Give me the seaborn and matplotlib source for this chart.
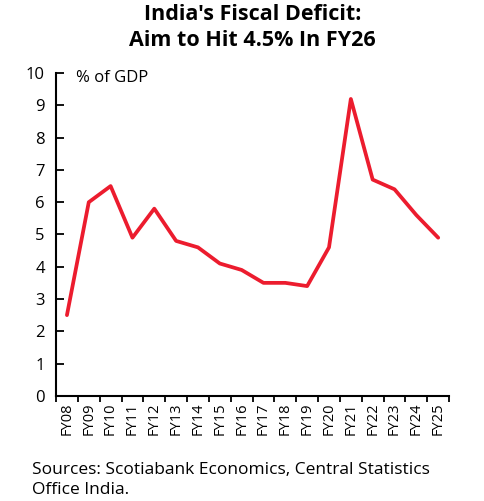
import numpy as np
import pandas as pd
import seaborn as sns
import matplotlib.pyplot as plt
from matplotlib.ticker import FixedLocator

# fiscal deficit, % of GDP
years = ["FY08", "FY09", "FY10", "FY11", "FY12", "FY13", "FY14", "FY15", "FY16",
         "FY17", "FY18", "FY19", "FY20", "FY21", "FY22", "FY23", "FY24", "FY25"]
deficit = [2.5, 6.0, 6.5, 4.9, 5.8, 4.8, 4.6, 4.1, 3.9,
           3.5, 3.5, 3.4, 4.6, 9.2, 6.7, 6.4, 5.6, 4.9]
yticks = [0, 1, 2, 3, 4, 5, 6, 7, 8, 9, 10]

df = pd.DataFrame({"year": years, "deficit": deficit})

sns.set_theme(style="ticks")
plt.rcParams["font.family"] = ["Open Sans", "DejaVu Sans"]
plt.rcParams["text.color"] = "black"
plt.rcParams["xtick.color"] = "black"
plt.rcParams["ytick.color"] = "black"

fig = plt.figure(figsize=(4.85, 5.01), dpi=100)
ax = fig.add_axes([0.1155, 0.21, 0.8105, 0.644])

sns.lineplot(data=df, x="year", y="deficit", ax=ax, color="#EC1C2E",
             linewidth=2.7, sort=False)

ax.set_xlim(-0.5, len(years) - 0.5)
ax.set_ylim(0, 10)
ax.set_yticks(yticks)
ax.set_yticklabels([str(t) for t in yticks], fontsize=12)
ax.tick_params(axis="y", direction="in", length=6, width=1.3, pad=8)

ax.set_xticks(range(len(years)))
ax.set_xticklabels(years, rotation=90, fontsize=10.5)
ax.tick_params(axis="x", which="major", length=0, pad=5)
ax.xaxis.set_minor_locator(FixedLocator(np.arange(len(years) + 1) - 0.5))
ax.tick_params(axis="x", which="minor", direction="out", length=4, width=1.3)

for s in ["top", "right"]:
    ax.spines[s].set_visible(False)
for s in ["left", "bottom"]:
    ax.spines[s].set_linewidth(1.5)
    ax.spines[s].set_color("black")

ax.set_xlabel("")
ax.set_ylabel("")
ax.text(0.05, 0.985, "% of GDP", transform=ax.transAxes, fontsize=12,
        va="center", ha="left")

fig.text(0.52, 0.945, "India's Fiscal Deficit:\nAim to Hit 4.5% In FY26",
         ha="center", va="center", fontsize=15.5, fontweight="bold",
         linespacing=1.35)
fig.text(0.066, 0.042, "Sources: Scotiabank Economics, Central Statistics\nOffice India.",
         ha="left", va="center", fontsize=12.5, linespacing=1.3)

fig.savefig("out.png", dpi=100)
